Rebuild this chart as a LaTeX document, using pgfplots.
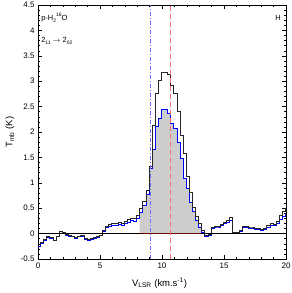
\documentclass[border=0pt]{standalone}
\usepackage{fontspec}
\setmainfont{Liberation Sans}
\usepackage{pgfplots}
\pgfplotsset{compat=1.18}
\usetikzlibrary{calc}
\definecolor{fillgray}{HTML}{CDCDCD}
\definecolor{vred}{HTML}{FF6B6B}
\definecolor{vblue}{HTML}{6B6BFF}
\newcommand{\mysub}[1]{\raisebox{-2pt}{\fontsize{5}{5}\selectfont #1}}
\newcommand{\mysup}[1]{\raisebox{3.4pt}{\fontsize{5}{5}\selectfont #1}}
\begin{document}
\begin{tikzpicture}
\begin{axis}[
  scale only axis, width=248bp, height=254bp,
  xmin=0, xmax=20, ymin=-0.5, ymax=4.5,
  xtick={0,5,10,15,20}, ytick={-0.5,0,0.5,1,1.5,2,2.5,3,3.5,4,4.5},
  minor x tick num=4, minor y tick num=4,
  tick align=inside,
  major tick length=4bp, minor tick length=2bp,
  axis line style={line width=0.5pt},
  every tick/.style={line width=0.4pt},
  /pgf/number format/assume math mode=true,
  ticklabel style={font=\fontsize{8}{9}\selectfont},
  xlabel={V\textsubscript{LSR} (km.s\textsuperscript{-1})},
  ylabel={T\textsubscript{mb} (K)},
  label style={font=\fontsize{9.5}{11}\selectfont},
  xlabel style={at={(axis description cs:0.49,-0.095)}, anchor=center},
  ylabel style={at={(axis description cs:-0.113,0.5)}, anchor=center},
  clip=true,
]
\coordinate (SW) at (rel axis cs:0,0);
\coordinate (NE) at (rel axis cs:1,1);
% shaded area under blue spectrum
\addplot[const plot, fill=fillgray, draw=none] coordinates {
(8.2,0.42) (8.45,0.55) (8.7,0.78) (8.95,1.28) (9.2,1.65) (9.45,2.12) (9.7,2.27)
(9.95,2.44) (10.2,2.44) (10.45,2.36) (10.7,2.17) (10.95,2.07) (11.2,1.8) (11.45,1.48)
(11.7,1.08) (11.95,0.89) (12.2,0.62) (12.45,0.43) (12.7,0.26) (12.95,0.13) (13.2,0.13)
} \closedcycle;
% blue spectrum
\addplot[const plot, color=blue, line width=0.7pt] coordinates {
(0,-0.25) (0.2,-0.2) (0.45,-0.13) (0.7,-0.07) (0.95,-0.1) (1.2,-0.14) (1.45,-0.06)
(1.7,0.04) (1.95,0.02) (2.2,-0.03) (2.45,-0.05) (2.7,-0.06) (2.95,-0.09) (3.2,-0.06)
(3.45,-0.05) (3.7,-0.11) (3.95,-0.13) (4.2,-0.11) (4.45,-0.09) (4.7,-0.07) (4.95,-0.04)
(5.2,0.04) (5.45,0.12) (5.7,0.15) (5.95,0.16) (6.2,0.17) (6.45,0.18) (6.7,0.17)
(6.95,0.2) (7.2,0.23) (7.45,0.26) (7.7,0.25) (7.95,0.3) (8.2,0.42) (8.45,0.55)
(8.7,0.78) (8.95,1.28) (9.2,1.65) (9.45,2.12) (9.7,2.27) (9.95,2.44) (10.2,2.44)
(10.45,2.36) (10.7,2.17) (10.95,2.07) (11.2,1.8) (11.45,1.48) (11.7,1.08) (11.95,0.89)
(12.2,0.62) (12.45,0.43) (12.7,0.26) (12.95,0.13) (13.2,0.03) (13.45,-0.06) (13.7,-0.04)
(13.95,0.1) (14.2,0.13) (14.45,0.13) (14.7,0.16) (14.95,0.2) (15.2,0.23) (15.45,0.27)
(15.7,0.01) (15.95,0.01) (16.2,0.05) (16.45,0.12) (16.7,0.12) (16.95,0.11) (17.2,0.11)
(17.45,0.08) (17.7,0.08) (17.95,0.07) (18.2,0.08) (18.45,0.13) (18.7,0.16) (18.95,0.16)
(19.2,0.2) (19.45,0.28) (19.7,0.33) (19.95,0.38) (20,0.38)
};
% black spectrum
\addplot[const plot, color=black!85, line width=0.7pt] coordinates {
(0,-0.21) (0.2,-0.17) (0.45,-0.12) (0.7,-0.06) (0.95,-0.08) (1.2,-0.13) (1.45,-0.06)
(1.7,0.05) (1.95,0.03) (2.2,-0.02) (2.45,-0.04) (2.7,-0.05) (2.95,-0.08) (3.2,-0.05)
(3.45,-0.03) (3.7,-0.09) (3.95,-0.12) (4.2,-0.1) (4.45,-0.08) (4.7,-0.06) (4.95,-0.03)
(5.2,0.06) (5.45,0.15) (5.7,0.18) (5.95,0.2) (6.2,0.2) (6.45,0.22) (6.7,0.2)
(6.95,0.24) (7.2,0.28) (7.45,0.31) (7.7,0.3) (7.95,0.36) (8.2,0.5) (8.45,0.63)
(8.7,0.86) (8.95,1.32) (9.2,2.13) (9.45,2.76) (9.7,3.02) (9.95,3.18) (10.2,3.18)
(10.45,3.13) (10.7,2.92) (10.95,2.76) (11.2,2.4) (11.45,1.94) (11.7,1.57) (11.95,1.12)
(12.2,0.82) (12.45,0.52) (12.7,0.33) (12.95,0.2) (13.2,0.07) (13.45,-0.04) (13.7,-0.02)
(13.95,0.12) (14.2,0.15) (14.45,0.15) (14.7,0.18) (14.95,0.22) (15.2,0.26) (15.45,0.32)
(15.7,0.03) (15.95,0.02) (16.2,0.07) (16.45,0.14) (16.7,0.14) (16.95,0.13) (17.2,0.13)
(17.45,0.1) (17.7,0.1) (17.95,0.09) (18.2,0.1) (18.45,0.16) (18.7,0.2) (18.95,0.19)
(19.2,0.25) (19.45,0.36) (19.7,0.43) (19.95,0.5) (20,0.5)
};
% baseline
\addplot[black, line width=0.5pt] coordinates {(0,0) (20,0)};
\addplot[color=black!60!red, line width=0.5pt] coordinates {(8.2,0) (13.2,0)};
% velocity markers
\addplot[vblue, line width=0.7pt, dash pattern=on 4bp off 2bp on 1bp off 2bp] coordinates {(9.05,-0.5) (9.05,4.5)};
\addplot[vred, line width=0.8pt, dash pattern=on 5bp off 3bp] coordinates {(10.65,-0.5) (10.65,4.5)};
\node[anchor=west, font=\fontsize{7.5}{9}\selectfont, inner sep=0pt] at (axis cs:0.25,4.25) {p-H\mysub{2}\mysup{16}O};
\node[anchor=west, font=\fontsize{7.5}{9}\selectfont, inner sep=0pt] at (axis cs:0.25,3.8) {2\mysub{11} $\rightarrow$ 2\mysub{02}};
\node[anchor=east, font=\fontsize{7.5}{9}\selectfont, inner sep=0pt] at (axis cs:19.6,4.25) {H};
\end{axis}
\pgfresetboundingbox
\path (SW) ++(-38bp,-34bp) rectangle ($(NE)+(6bp,5bp)$);
\end{tikzpicture}
\end{document}
